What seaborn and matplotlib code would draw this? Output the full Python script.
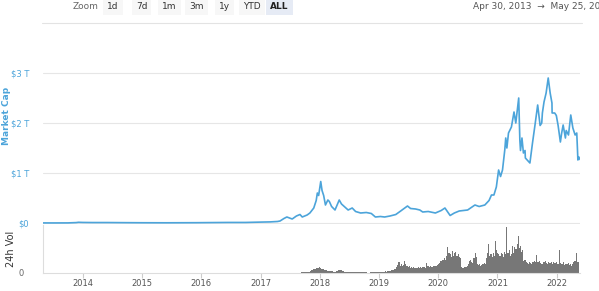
import numpy as np
import pandas as pd
import matplotlib
matplotlib.use("Agg")
import matplotlib.pyplot as plt
import matplotlib.dates as mdates
import seaborn as sns

# total market cap, trillions USD
cap_dates = [
    '2013-04-30', '2013-07-01', '2013-10-01', '2013-11-20', '2013-12-05',
    '2014-01-01', '2014-03-01', '2014-06-01', '2014-09-01', '2015-01-01',
    '2015-06-01', '2015-12-01', '2016-06-15', '2016-10-01', '2017-01-01',
    '2017-03-01', '2017-04-15', '2017-05-01', '2017-05-25', '2017-06-12',
    '2017-07-15', '2017-08-10', '2017-09-01', '2017-09-15', '2017-10-15',
    '2017-11-01', '2017-11-25', '2017-12-10', '2017-12-17', '2017-12-25',
    '2018-01-07', '2018-01-15', '2018-01-25', '2018-02-05', '2018-02-20',
    '2018-03-01', '2018-03-15', '2018-04-05', '2018-05-01', '2018-05-15',
    '2018-06-01', '2018-06-25', '2018-07-20', '2018-08-10', '2018-09-10',
    '2018-10-15', '2018-11-15', '2018-12-10', '2019-01-10', '2019-02-05',
    '2019-03-10', '2019-04-15', '2019-05-15', '2019-06-26', '2019-07-15',
    '2019-08-15', '2019-09-10', '2019-09-28', '2019-11-01', '2019-12-15',
    '2020-01-20', '2020-02-12', '2020-03-15', '2020-04-10', '2020-05-10',
    '2020-07-01', '2020-08-15', '2020-09-10', '2020-10-15', '2020-11-10',
    '2020-11-25', '2020-12-10', '2020-12-25', '2021-01-08', '2021-01-20',
    '2021-02-01', '2021-02-15', '2021-02-21', '2021-02-28', '2021-03-10',
    '2021-03-28', '2021-04-13', '2021-04-24', '2021-05-12', '2021-05-19',
    '2021-05-23', '2021-06-01', '2021-06-10', '2021-06-20', '2021-06-22',
    '2021-07-20', '2021-08-05', '2021-08-20', '2021-09-06', '2021-09-21',
    '2021-10-01', '2021-10-05', '2021-10-15', '2021-10-28', '2021-11-10',
    '2021-11-22', '2021-12-03', '2021-12-04', '2021-12-20', '2021-12-30',
    '2022-01-10', '2022-01-24', '2022-02-01', '2022-02-10', '2022-02-24',
    '2022-03-01', '2022-03-15', '2022-03-29', '2022-04-11', '2022-04-25',
    '2022-05-05', '2022-05-09', '2022-05-12', '2022-05-18', '2022-05-25',
]
cap_values = [
    0.0015, 0.0012, 0.002, 0.008, 0.014,
    0.011, 0.009, 0.009, 0.007, 0.005,
    0.004, 0.006, 0.011, 0.011, 0.018,
    0.022, 0.03, 0.04, 0.09, 0.12,
    0.08, 0.14, 0.17, 0.12, 0.16,
    0.2, 0.3, 0.45, 0.6, 0.55,
    0.83, 0.65, 0.55, 0.36, 0.46,
    0.43, 0.33, 0.26, 0.46, 0.38,
    0.33, 0.26, 0.3, 0.23, 0.2,
    0.21, 0.19, 0.12, 0.13, 0.12,
    0.14, 0.17, 0.24, 0.34, 0.29,
    0.28, 0.26, 0.22, 0.23, 0.2,
    0.25, 0.3, 0.15, 0.2, 0.24,
    0.26, 0.36, 0.33, 0.36, 0.45,
    0.56, 0.56, 0.72, 1.06, 0.93,
    1.06, 1.46, 1.7, 1.5, 1.8,
    1.92, 2.22, 2.0, 2.5, 1.66,
    1.45, 1.7, 1.4, 1.45, 1.3,
    1.2, 1.6, 1.95, 2.36, 1.95,
    2.0, 2.2, 2.42, 2.6, 2.9,
    2.6, 2.4, 2.2, 2.2, 2.15,
    1.95, 1.62, 1.8, 1.96, 1.7,
    1.85, 1.76, 2.16, 1.9, 1.76,
    1.8, 1.5, 1.26, 1.32, 1.27,
]

# weekly 24h volume, billions USD, from the first week of July 2017
vol_start = '2017-07-02'
vol_2017 = [2, 2, 2, 2, 3, 3, 3, 3, 3, 3, 4, 4, 4, 4, 5, 5, 6, 8, 15, 22,
            25, 28, 32, 35, 38, 40]
vol_2018 = [42, 38, 30, 28, 25, 22, 20, 18, 15, 15, 12, 12, 10, 10, 10, 12,
            18, 22, 25, 22, 18, 12, 10, 9, 8, 8, 8, 7, 7, 7, 8, 7, 7, 6, 7, 6,
            7, 6, 7, 6, 6, 5, 2, 1, 2, 4, 8, 10, 11, 10, 9, 10]
vol_2019 = [8, 9, 8, 10, 9, 10, 12, 11, 12, 14, 18, 22, 20, 25, 28, 30,
            45, 60, 80, 55, 70, 50, 60, 90, 65, 55, 45, 50, 40, 45, 38, 42,
            40, 35, 38, 45, 40, 42, 38, 44, 48, 40, 75, 55, 50, 48, 50, 45,
            52, 50, 55, 50]
vol_2020 = [60, 70, 75, 90, 100, 95, 110, 100, 130, 195, 150, 140, 120, 165,
            130, 150, 160, 125, 140, 120, 110, 45, 40, 38, 42, 45, 55, 70, 90,
            95, 80, 75, 110, 150, 120, 70, 60, 65, 55, 60, 70, 75, 65, 110,
            150, 215, 130, 140, 120, 150, 130, 240]
vol_2021 = [170, 150, 140, 130, 150, 145, 120, 160, 140, 345, 150, 170, 130,
            140, 200, 150, 195, 180, 220, 280, 190, 200, 160, 170, 90, 100,
            80, 75, 70, 85, 75, 70, 85, 90, 80, 135, 85, 80, 90, 75, 70, 80,
            85, 90, 75, 70, 80, 75, 85, 70, 80, 75]
vol_2022 = [75, 80, 70, 170, 75, 65, 70, 80, 60, 65, 70, 75, 60, 65, 55, 70,
            80, 90, 150, 85, 80]

cap_ticks = [0, 1, 2, 3]
cap_tick_labels = ['$0', '$1 T', '$2 T', '$3 T']
zoom_buttons = ['1d', '7d', '1m', '3m', '1y', 'YTD', 'ALL']

BLUE = '#4ca4da'
GRID = '#e6e6e6'

sns.set_theme(style='white')
plt.rcParams['font.family'] = ['DejaVu Sans']

cap = pd.DataFrame({'date': pd.to_datetime(cap_dates), 'cap': cap_values})
cap['x'] = mdates.date2num(cap['date'])

vol_values = vol_2017 + vol_2018 + vol_2019 + vol_2020 + vol_2021 + vol_2022
vol = pd.DataFrame({'date': pd.date_range(vol_start, periods=len(vol_values), freq='7D'),
                    'vol': vol_values})
vol['x'] = mdates.date2num(vol['date'])
bin_lo = float(vol['x'].iloc[0] - 3.5)
bin_hi = float(vol['x'].iloc[-1] + 3.5)

x0 = mdates.date2num(pd.Timestamp('2013-04-30'))
x1 = mdates.date2num(pd.Timestamp('2022-05-25'))

fig = plt.figure(figsize=(5.99, 2.91), dpi=100)
W, H = 599, 291
left, width = 43 / W, 537 / W
ax = fig.add_axes([left, 1 - 224 / H, width, 166 / H])
axv = fig.add_axes([left, 1 - 273 / H, width, 48 / H])

# market cap panel
sns.lineplot(data=cap, x='x', y='cap', ax=ax, color=BLUE, linewidth=1.2)
ax.set_xlim(x0, x1)
ax.set_ylim(-0.02, 3.3)
ax.set_yticks(cap_ticks)
ax.set_yticklabels(cap_tick_labels)
ax.tick_params(axis='y', length=0, labelsize=6, labelcolor=BLUE, pad=10)
ax.set_xticks([])
ax.grid(axis='y', color=GRID, linewidth=0.8)
ax.set_axisbelow(True)
for s in ax.spines.values():
    s.set_visible(False)
ax.set_xlabel('')
ax.set_ylabel('Market Cap', color=BLUE, fontsize=6.5, fontweight='bold')
ax.yaxis.set_label_coords(-0.06, 0.65)
ax.patch.set_alpha(0)

# volume panel
sns.histplot(data=vol, x='x', weights='vol', binwidth=7, binrange=(bin_lo, bin_hi),
             ax=axv, color='#777777', alpha=1, linewidth=0, edgecolor='none')
axv.set_xlim(x0, x1)
axv.set_ylim(0, 360)
axv.set_yticks([0])
axv.set_yticklabels(['0'])
axv.tick_params(axis='y', length=0, labelsize=6, labelcolor='#666666', pad=14)
axv.xaxis.set_major_locator(mdates.YearLocator())
axv.xaxis.set_major_formatter(mdates.DateFormatter('%Y'))
axv.tick_params(axis='x', bottom=True, length=3.5, width=0.8, color='#cccccc',
                labelsize=6, labelcolor='#555555', pad=0.5, direction='out')
for k in ['top', 'right']:
    axv.spines[k].set_visible(False)
axv.spines['left'].set_color('#dddddd')
axv.spines['bottom'].set_color('#dddddd')
axv.spines['left'].set_linewidth(0.8)
axv.spines['bottom'].set_linewidth(0.8)
axv.set_xlabel('')
axv.set_ylabel('24h Vol', color='#333333', fontsize=7)
axv.yaxis.set_label_coords(-0.05, 0.5)

# range selector bar on top
fig.text(73 / W, 1 - 6.7 / H, 'Zoom', fontsize=6.5, color='#666666', va='center')
btn_x = [113, 141.5, 169.5, 196.7, 224.8, 251.7, 279.5]
for label, bx in zip(zoom_buttons, btn_x):
    active = label == 'ALL'
    fig.text(bx / W, 1 - 6.7 / H, label, fontsize=6.5, ha='center', va='center',
             color='#222222' if active else '#333333',
             fontweight='bold' if active else 'normal',
             bbox=dict(boxstyle='square,pad=0.45',
                       facecolor='#e6ebf5' if active else '#f7f7f7',
                       edgecolor='none'))
# the range label runs past the right edge in the original, too
fig.text(473 / W, 1 - 6.7 / H, 'Apr 30, 2013  \u2192  May 25, 2022',
         fontsize=6.5, color='#555555', va='center')
fig.add_artist(plt.Line2D([42 / W, 582 / W], [1 - 23 / H, 1 - 23 / H],
                          color='#e3e3e3', linewidth=0.8))

fig.savefig('out.png', dpi=100)
